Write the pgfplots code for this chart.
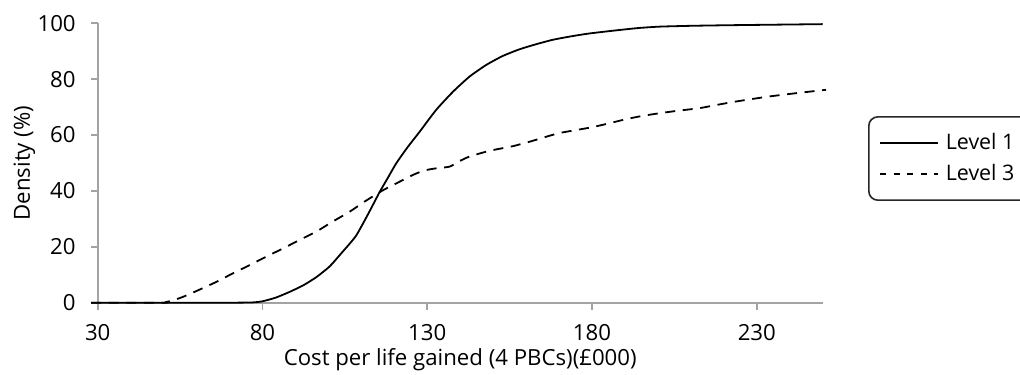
\documentclass[border=0pt]{standalone}
\usepackage{pgfplots}
\pgfplotsset{compat=1.18}
\usepackage{fontspec}
\setmainfont{Open Sans}
\definecolor{axgray}{HTML}{A3A3A3}
\begin{document}
\begin{tikzpicture}[font=\fontsize{11.1}{13.3}\selectfont]
\useasboundingbox (0,0) rectangle (510pt,187pt);
\begin{axis}[
  at={(48.85pt,35.65pt)}, anchor=south west,
  scale only axis, width=362.5pt, height=139.7pt,
  xmin=30, xmax=250, ymin=0, ymax=100,
  axis x line=bottom, axis y line=left,
  axis line style={-, draw=axgray, line width=0.9pt},
  every tick/.style={draw=axgray, line width=0.9pt},
  tick align=outside, major tick length=3.5pt,
  xtick={30,80,130,180,230},
  ytick={0,20,40,60,80,100},
  /pgf/number format/assume math mode=true,
  xticklabel style={yshift=-3.6pt},
  yticklabel style={xshift=-4pt},
  xlabel={Cost per life gained (4 PBCs)(£000)},
  ylabel={Density (\%)},
  xlabel style={at={(axis description cs:0.5,-0.223)}, anchor=base},
  ylabel style={at={(axis description cs:-0.0934,0.5)}, anchor=base},
  clip=false,
  legend style={at={(1.0625,0.668)}, anchor=north west, draw=black!85, line width=0.8pt, rounded corners=4.5pt, inner xsep=5.3pt, inner ysep=6.2pt, row sep=2pt, column sep=1.3pt, font=\fontsize{10.7}{12.8}\selectfont},
  legend cell align=left,
  legend image code/.code={\draw[#1] (0pt,0pt) -- (29pt,0pt);},
]
\addplot[black, line width=0.9pt, smooth, tension=0.35] coordinates {
(28,0) (50,0) (70,0) (77,0.1) (80,0.5) (84,1.8) (88.3,3.9) (92.5,6.3) (96.4,9.2) (100.4,13) (104,17.8) (108.3,23.8) (112,31.6) (115.5,39.5) (118,44.6) (120.6,49.9) (124,55.6) (127.7,61.2) (132.7,69) (137.8,75.5) (142.8,80.9) (147.9,85.1) (152.9,88.3) (158,90.7) (163,92.5) (168.1,94.1) (173,95.2) (178.2,96.2) (183,96.9) (188.3,97.6) (194,98.3) (200.4,98.8) (210,99.1) (220.6,99.3) (235,99.5) (250,99.7)
};
\addlegendentry{Level 1}
\addplot[black, line width=0.9pt, dash pattern=on 5pt off 3.8pt, smooth, tension=0.35,
  legend image code/.code={\draw[black, line width=0.8pt, dash pattern=on 3pt off 3.7pt] (0pt,0pt) -- (29pt,0pt);}] coordinates {
(28,0) (50,0) (51,0.3) (53,0.9) (55.9,2.1) (60,4.2) (66.1,7.5) (71,10.5) (76.2,13.5) (81,16.4) (86.2,19.4) (91,22.3) (96.4,25.5) (101.4,29.1) (106.5,32.6) (111,36.2) (116.5,40.2) (121.6,43.3) (125.6,45.7) (129,47.3) (132.7,48.1) (136.8,48.7) (139.5,50.5) (142.8,52.3) (149,54.4) (155.9,56) (161,57.6) (166.1,59.4) (170,60.7) (175.2,61.8) (180,62.8) (185.2,64.2) (190,65.6) (195,66.8) (200.4,67.8) (206,68.7) (212.5,69.6) (217,70.6) (222.6,71.8) (228,72.8) (233.7,73.8) (242,75) (251,76.2)
};
\addlegendentry{Level 3}
\end{axis}
\end{tikzpicture}
\end{document}
